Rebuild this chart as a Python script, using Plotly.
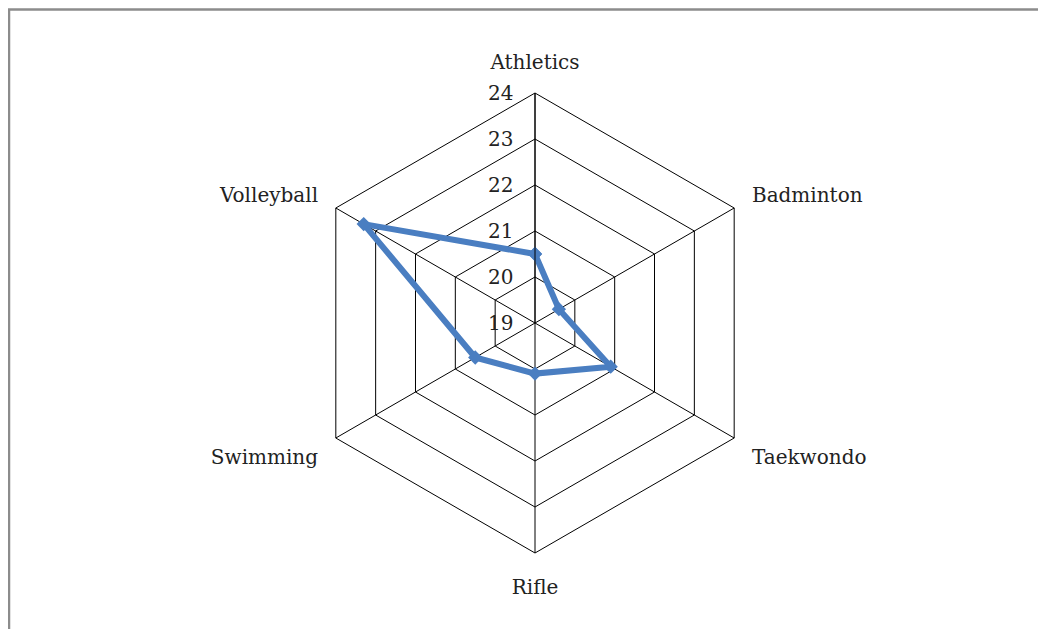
import plotly.graph_objects as go

categories = ["Athletics", "Badminton", "Taekwondo", "Rifle", "Swimming", "Volleyball"]
values = [20.5, 19.6, 20.9, 20.1, 20.5, 23.3]
radial_ticks = [19, 20, 21, 22, 23, 24]

W, H = 1046, 629
OFF = 8  # page body margin
cx, cy, R = 535 - OFF, 323 - OFF, 230

fig = go.Figure()
fig.add_trace(go.Scatterpolar(
    r=values + values[:1],
    theta=categories + categories[:1],
    mode="lines+markers",
    line=dict(color="#4A7EC1", width=6),
    marker=dict(symbol="diamond", size=11, color="#4A7EC1"),
    showlegend=False,
))

font = dict(family="DejaVu Serif", size=20, color="#222222")

fig.update_layout(
    width=W, height=H,
    margin=dict(l=cx - R, r=W - cx - R, t=cy - R, b=H - cy - R),
    paper_bgcolor="white",
    font=font,
    polar=dict(
        bgcolor="white",
        gridshape="linear",
        domain=dict(x=[0, 1], y=[0, 1]),
        angularaxis=dict(
            rotation=90, direction="clockwise",
            categoryorder="array", categoryarray=categories,
            showline=True, linecolor="black", linewidth=1,
            gridcolor="black", gridwidth=1,
            ticks="outside", ticklen=16, tickcolor="rgba(0,0,0,0)",
            tickfont=font,
        ),
        radialaxis=dict(
            range=[19, 24], tickvals=radial_ticks,
            angle=90, side="counterclockwise", tickangle=90,
            showline=True, linecolor="black", linewidth=1,
            gridcolor="black", gridwidth=1,
            ticks="outside", ticklen=14, tickcolor="rgba(0,0,0,0)",
            tickfont=font,
        ),
    ),
)

# outer frame of the chart area (extends past right/bottom edges)
fig.add_shape(type="rect", xref="paper", yref="paper",
              x0=(1 - (cx - R)) / (2 * R), x1=(W + 20 - (cx - R)) / (2 * R),
              y0=-(H - cy - R + 20) / (2 * R), y1=1 + (cy - R - 1.5) / (2 * R),
              line=dict(color="#8c8c8c", width=2.5), layer="below")

fig.write_html("out.html")
